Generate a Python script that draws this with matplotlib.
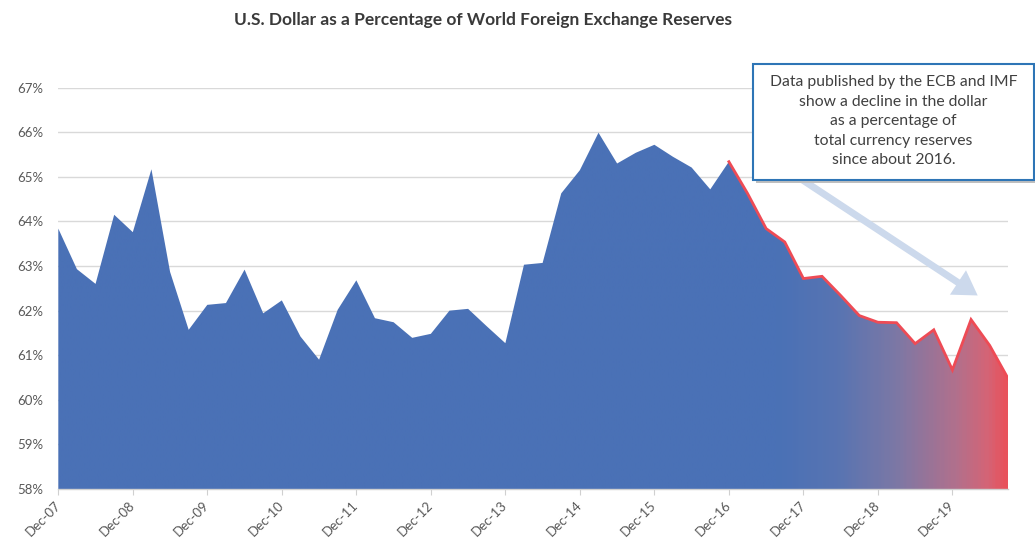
import numpy as np
import matplotlib
matplotlib.use("Agg")
import matplotlib.pyplot as plt
from matplotlib.colors import LinearSegmentedColormap
from matplotlib.patches import Rectangle, FancyArrowPatch

plt.rcParams['font.family'] = ['Lato', 'DejaVu Sans']

title = "U.S. Dollar as a Percentage of World Foreign Exchange Reserves"
# Quarterly USD share of allocated reserves (%), Dec-07 .. Sep-20
values = [63.84,
          62.93, 62.60, 64.15, 63.76,
          65.17, 62.87, 61.57, 62.13,
          62.17, 62.92, 61.94, 62.23,
          61.42, 60.90, 62.02, 62.68,
          61.83, 61.74, 61.39, 61.48,
          62.00, 62.04, 61.65, 61.27,
          63.03, 63.07, 64.63, 65.15,
          65.99, 65.30, 65.54, 65.72,
          65.45, 65.21, 64.72, 65.34,
          64.63, 63.84, 63.54, 62.72,
          62.77, 62.34, 61.89, 61.74,
          61.73, 61.26, 61.57, 60.67,
          61.80, 61.22, 60.47]
tick_labels = ["Dec-07", "Dec-08", "Dec-09", "Dec-10", "Dec-11", "Dec-12", "Dec-13",
               "Dec-14", "Dec-15", "Dec-16", "Dec-17", "Dec-18", "Dec-19"]
y_ticks = [58, 59, 60, 61, 62, 63, 64, 65, 66, 67]
highlight_start = 36  # index of Dec-16
note_lines = ["Data published by the ECB and IMF",
              "show a decline in the dollar",
              "as a percentage of",
              "total currency reserves",
              "since about 2016."]

x = np.arange(len(values))
y = np.array(values)

W, H = 1035, 548
fig = plt.figure(figsize=(W / 100, H / 100), dpi=100)
ax = fig.add_axes([58.3 / W, 1 - 489 / H, (1008.3 - 58.3) / W, (489 - 87.7) / H])
ax.set_xlim(0, len(values) - 1)
ax.set_ylim(58, 67)

# gradient fill clipped to area
poly = ax.fill_between(x, y, 58, color='none', lw=0, zorder=2)
blue = '#4A71B6'
cmap = LinearSegmentedColormap.from_list('bg', [
    (0.0, blue), (0.76, blue), (0.823, '#5874B2'), (0.886, '#7D78A5'),
    (0.949, '#B2708C'), (0.981, '#D46476'), (1.0, '#E8525C')])
grad = np.linspace(0, 1, 600).reshape(1, -1)
im = ax.imshow(grad, extent=[0, len(values) - 1, 58, 67], aspect='auto',
               cmap=cmap, zorder=2, interpolation='bilinear', origin='lower')
path = poly.get_paths()[0]
im.set_clip_path(path, transform=ax.transData)

# red highlight line
ax.plot(x[highlight_start:], y[highlight_start:], color='#EE4B55', lw=2.0, zorder=3,
        solid_joinstyle='miter')

# grid and axes
ax.set_yticks(y_ticks)
ax.set_yticklabels([f"{t}%" for t in y_ticks])
ax.yaxis.grid(True, color='#D9D9D9', lw=1.0)
ax.set_axisbelow(True)
for s in ['top', 'right', 'left']:
    ax.spines[s].set_visible(False)
ax.spines['bottom'].set_color('#D0D0D0')
ax.spines['bottom'].set_linewidth(1.0)
ax.spines['bottom'].set_zorder(4)
ax.tick_params(axis='y', length=0, pad=11, labelsize=9.5, labelcolor='#595959')
ax.set_xticks(np.arange(0, len(values), 4))
ax.set_xticklabels(tick_labels, rotation=45, ha='right', va='center',
                   rotation_mode='anchor')
ax.tick_params(axis='x', length=4, color='#D0D0D0', pad=6, labelsize=9.5,
               labelcolor='#595959')

# arrow
def px2data(px, py):
    return ((px - 58.3) / (950 / (len(values) - 1)), 67 - (py - 87.7) / (401.3 / 9))

arr = FancyArrowPatch(px2data(795, 175), px2data(980, 297),
                      arrowstyle='simple,head_length=17,head_width=21,tail_width=5',
                      mutation_scale=1, color='#CCD9EC', lw=0, zorder=5)
ax.add_patch(arr)

# note box with shadow
bx0, bx1, by0, by1 = 752.7, 1034, 64.3, 180
fig.patches.append(Rectangle(((bx0 + 3) / W, 1 - (by1 + 3) / H), (bx1 - bx0) / W,
                             (by1 - by0) / H, transform=fig.transFigure,
                             facecolor='#BFBFBF', edgecolor='none', zorder=8))
fig.patches.append(Rectangle((bx0 / W, 1 - by1 / H), (bx1 - bx0) / W, (by1 - by0) / H,
                             transform=fig.transFigure, facecolor='white',
                             edgecolor='#2E75B6', lw=1.5, zorder=9))
fig.text((bx0 + bx1) / 2 / W, 1 - 121 / H, "\n".join(note_lines), ha='center',
         va='center', fontsize=11.3, color='#404040', linespacing=1.5, zorder=10)

fig.text(483 / W, 1 - 20 / H, title, ha='center', va='center', fontsize=12.5,
         fontweight='bold', color='#3A3A3A')

fig.savefig('out.png', dpi=100)
